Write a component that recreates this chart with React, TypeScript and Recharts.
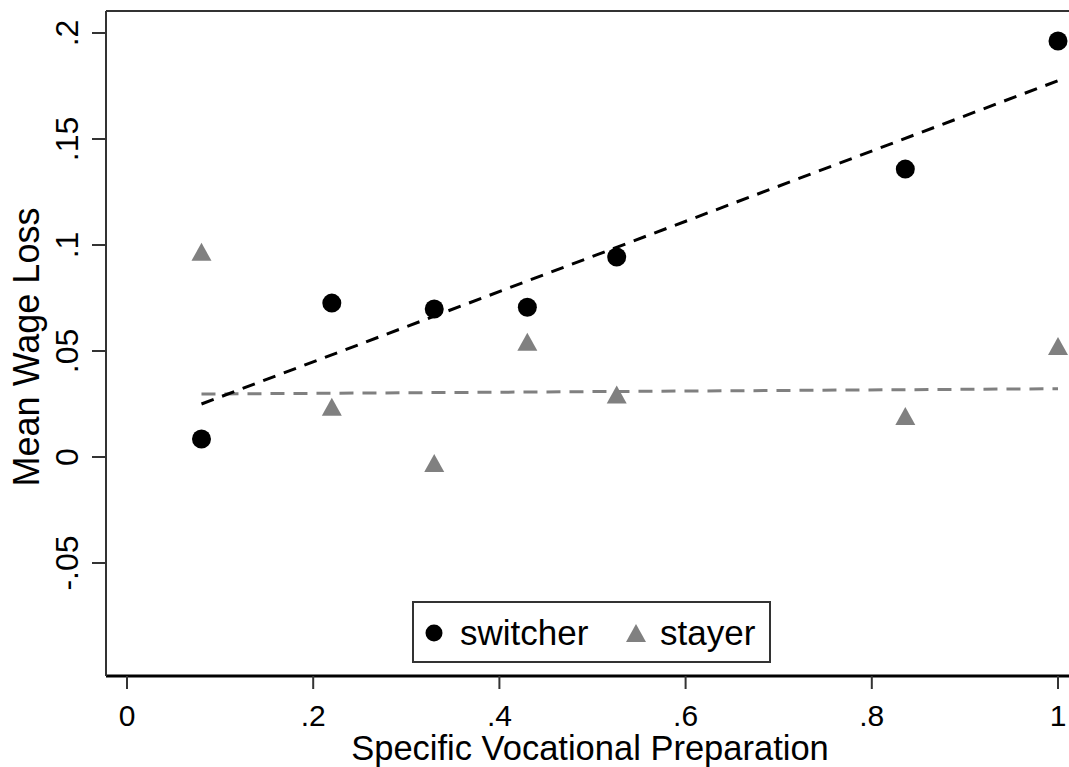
import React from "react";
import {
  ComposedChart,
  XAxis,
  YAxis,
  Scatter,
  Line,
  ReferenceLine,
  Legend,
} from "recharts";

// ---- data ----
const svpValues = [0.08, 0.22, 0.33, 0.43, 0.526, 0.836, 1.0];
const switcherLoss = [0.0085, 0.0726, 0.0698, 0.0706, 0.0943, 0.1358, 0.1962];
const stayerLoss = [0.0968, 0.0237, -0.0028, 0.0544, 0.0295, 0.0193, 0.0524];

const fitX = [0.08, 1.0];
const switcherFitY = [0.025, 0.1775];
const stayerFitY = [0.0297, 0.0322];

const xTicks = [0, 0.2, 0.4, 0.6, 0.8, 1];
const yTicks = [-0.05, 0, 0.05, 0.1, 0.15, 0.2];

const X_DOMAIN: [number, number] = [-0.02256, 1.01396];
const Y_DOMAIN: [number, number] = [-0.1033, 0.21038];

const switcherData = svpValues.map((x, i) => ({ x, y: switcherLoss[i] }));
const stayerData = svpValues.map((x, i) => ({ x, y: stayerLoss[i] }));
const switcherFit = fitX.map((x, i) => ({ x, y: switcherFitY[i] }));
const stayerFit = fitX.map((x, i) => ({ x, y: stayerFitY[i] }));

const FONT = "'Liberation Sans', Arial, Helvetica, sans-serif";
const GRAY = "#808080";

const fmt = (v: number) => {
  if (v === 0) return "0";
  return String(v).replace("0.", ".");
};

const XTick = (props: any) => {
  const { x, payload } = props;
  return (
    <text x={x} y={726} textAnchor="middle" fontSize={30} fontFamily={FONT} fill="#000">
      {fmt(payload.value)}
    </text>
  );
};

const YTick = (props: any) => {
  const { y, payload } = props;
  return (
    <text
      x={78}
      y={y}
      transform={`rotate(-90, 78, ${y})`}
      textAnchor="middle"
      fontSize={32}
      fontFamily={FONT}
      fill="#000"
    >
      {fmt(payload.value)}
    </text>
  );
};

const CircleShape = (props: any) => {
  const { cx, cy } = props;
  return <circle cx={cx} cy={cy} r={9.5} fill="#000" />;
};

const TriangleShape = (props: any) => {
  const { cx, cy } = props;
  return (
    <polygon
      points={`${cx - 10},${cy + 9} ${cx + 10},${cy + 9} ${cx},${cy - 9}`}
      fill={GRAY}
    />
  );
};

const LegendBox = () => (
  <svg width={359} height={62} style={{ display: "block" }}>
    <rect x={1} y={1} width={357} height={60} fill="#fff" stroke="#333" strokeWidth={2} />
    <circle cx={22} cy={32} r={8.5} fill="#000" />
    <text x={48} y={44} fontSize={35} fontFamily={FONT} fill="#000">
      switcher
    </text>
    <polygon points={`${214},${41} ${234},${41} ${224},${23}`} fill={GRAY} />
    <text x={248} y={44} fontSize={35} fontFamily={FONT} fill="#000">
      stayer
    </text>
  </svg>
);

export default function App() {
  return (
    <div
      style={{
        position: "absolute",
        left: 0,
        top: 0,
        width: 1069,
        height: 767,
        overflow: "hidden",
        background: "#fff",
      }}
    >
      <ComposedChart
        width={1075}
        height={767}
        margin={{ top: 11, right: 4, bottom: 0, left: 0 }}
      >
        <XAxis
          type="number"
          dataKey="x"
          domain={X_DOMAIN}
          allowDataOverflow
          ticks={xTicks}
          interval={0}
          height={91}
          tickSize={13}
          tick={<XTick />}
          axisLine={{ stroke: "#000", strokeWidth: 3 }}
          tickLine={{ stroke: "#333", strokeWidth: 2 }}
          label={{
            content: () => (
              <text x={590} y={760} textAnchor="middle" fontSize={34.5} fontFamily={FONT} fill="#000">
                Specific Vocational Preparation
              </text>
            ),
          }}
        />
        <YAxis
          type="number"
          dataKey="y"
          domain={Y_DOMAIN}
          allowDataOverflow
          ticks={yTicks}
          interval={0}
          width={106}
          tickSize={14}
          tick={<YTick />}
          axisLine={{ stroke: "#333", strokeWidth: 2 }}
          tickLine={{ stroke: "#333", strokeWidth: 2 }}
          label={{
            content: () => (
              <text
                x={39}
                y={347}
                transform="rotate(-90, 39, 347)"
                textAnchor="middle"
                fontSize={36}
                fontFamily={FONT}
                fill="#000"
              >
                Mean Wage Loss
              </text>
            ),
          }}
        />
        <ReferenceLine y={Y_DOMAIN[1]} stroke="#333" strokeWidth={2} ifOverflow="extendDomain" />
        <Line
          data={stayerFit}
          dataKey="y"
          type="linear"
          stroke={GRAY}
          strokeWidth={3}
          strokeDasharray="14 9"
          dot={false}
          activeDot={false}
          isAnimationActive={false}
          legendType="none"
        />
        <Line
          data={switcherFit}
          dataKey="y"
          type="linear"
          stroke="#000"
          strokeWidth={3}
          strokeDasharray="13 9"
          dot={false}
          activeDot={false}
          isAnimationActive={false}
          legendType="none"
        />
        <Scatter
          name="stayer"
          data={stayerData}
          dataKey="y"
          shape={<TriangleShape />}
          isAnimationActive={false}
        />
        <Scatter
          name="switcher"
          data={switcherData}
          dataKey="y"
          shape={<CircleShape />}
          isAnimationActive={false}
        />
        <Legend
          layout="horizontal"
          verticalAlign="middle"
          align="center"
          content={() => <LegendBox />}
          wrapperStyle={{ position: "absolute", left: 412, top: 601, width: 359, height: 62 }}
        />
      </ComposedChart>
    </div>
  );
}
